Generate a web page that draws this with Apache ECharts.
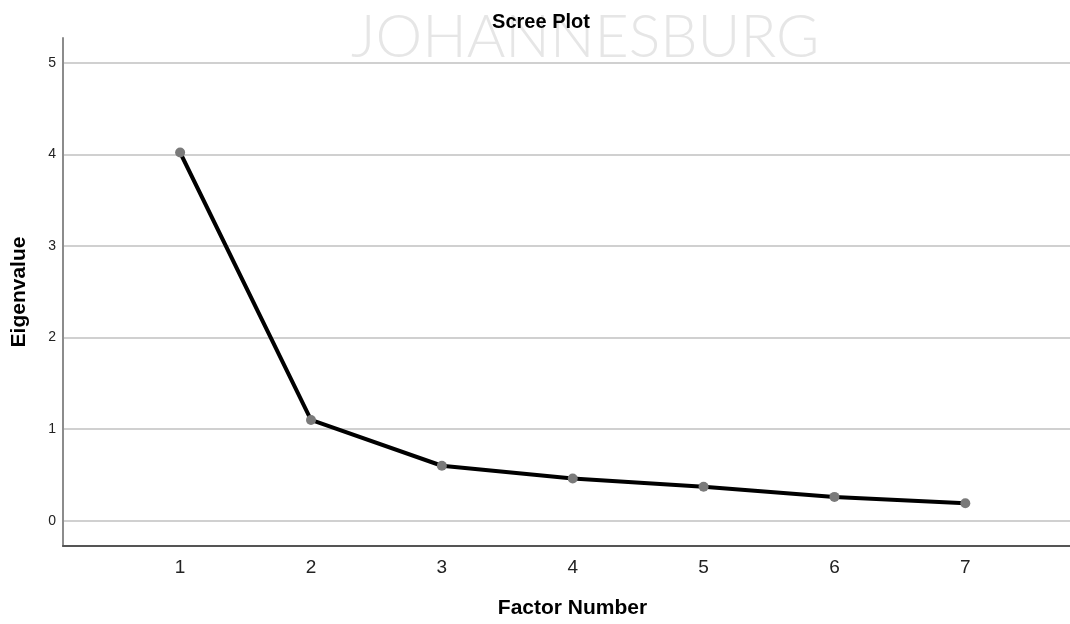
<!DOCTYPE html>
<html>
<head>
<meta charset="utf-8">
<script src="https://cdn.jsdelivr.net/npm/echarts@6/dist/echarts.min.js"></script>
<style>
  html, body { margin: 0; padding: 0; background: #fff; }
  #chart { width: 1070px; height: 624px; }
</style>
</head>
<body>
<div id="chart"></div>
<script>
// Factor numbers and their eigenvalues
const factors = [1, 2, 3, 4, 5, 6, 7];
const eigenvalues = [4.02, 1.10, 0.60, 0.46, 0.37, 0.26, 0.19];
const yTicks = [0, 1, 2, 3, 4, 5];

const font = '"Liberation Sans", Arial, sans-serif';

const chart = echarts.init(document.getElementById('chart'), null, { renderer: 'canvas' });

chart.setOption({
  backgroundColor: '#ffffff',
  animation: false,
  title: {
    text: 'Scree Plot',
    left: 536,
    textAlign: 'center',
    top: 7,
    textStyle: { fontFamily: font, fontSize: 20, fontWeight: 'bold', color: '#000' }
  },
  graphic: [{
    type: 'text',
    left: 351,
    top: 8,
    z: -10,
    silent: true,
    style: {
      text: 'JOHANNESBURG',
      font: '300 59px Lato, "Open Sans", sans-serif',
      fill: '#e6e6e6'
    }
  }],
  grid: { left: 63, right: 0, top: 38, bottom: 73, containLabel: false },
  xAxis: {
    type: 'value',
    min: 0.105,
    max: 7.8,
    name: 'Factor Number',
    nameLocation: 'middle',
    nameGap: 52,
    nameTextStyle: { fontFamily: font, fontSize: 21, fontWeight: 'bold', color: '#000', padding: [0, 0, 0, 12] },
    axisLine: { show: true, onZero: false, lineStyle: { color: '#555', width: 2 } },
    axisTick: { show: false, customValues: factors },
    splitLine: { show: false },
    axisLabel: {
      customValues: factors,
      margin: 12,
      fontFamily: font,
      fontSize: 19,
      color: '#222'
    }
  },
  yAxis: {
    type: 'value',
    min: -0.276,
    max: 5.27,
    name: 'Eigenvalue',
    nameLocation: 'middle',
    nameGap: 33,
    nameTextStyle: { fontFamily: font, fontSize: 21, fontWeight: 'bold', color: '#000' },
    axisLine: { show: true, onZero: false, lineStyle: { color: '#8c8c8c', width: 2 } },
    axisTick: { show: false, customValues: yTicks },
    splitLine: { show: true, lineStyle: { color: '#d0d0d0', width: 2 } },
    axisLabel: {
      customValues: yTicks,
      margin: 7,
      fontFamily: font,
      fontSize: 14,
      color: '#222'
    }
  },
  series: [{
    type: 'line',
    data: factors.map((f, i) => [f, eigenvalues[i]]),
    lineStyle: { color: '#000', width: 4 },
    symbol: 'circle',
    symbolSize: 10,
    itemStyle: { color: '#7a7a7a' },
    z: 3
  }]
});
</script>
</body>
</html>
